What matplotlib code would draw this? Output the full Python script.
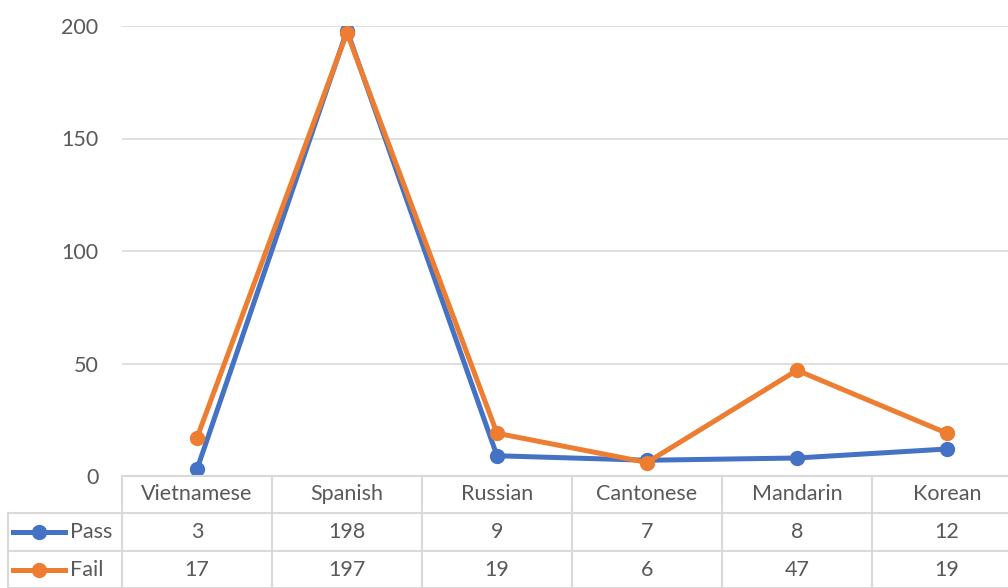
import matplotlib.pyplot as plt
from matplotlib.lines import Line2D

languages = ["Vietnamese", "Spanish", "Russian", "Cantonese", "Mandarin", "Korean"]
pass_counts = [3, 198, 9, 7, 8, 12]
fail_counts = [17, 197, 19, 6, 47, 19]
y_ticks = [0, 50, 100, 150, 200]

blue = "#4472C4"
orange = "#ED7D31"
grid_col = "#D9D9D9"
text_col = "#595959"
fs = 15.5

plt.rcParams["font.family"] = ["Lato", "DejaVu Sans"]

W, H = 1008, 588
fig = plt.figure(figsize=(W / 100, H / 100), dpi=100)

# plot area in pixels: x 122..1022 (cut by the image edge), y 26..476
ax = fig.add_axes([122 / W, (H - 476) / H, 900 / W, 450 / H])
x = list(range(len(languages)))
ax.plot(x, fail_counts, color=orange, lw=3.6, marker="o", ms=10, zorder=3,
        solid_capstyle="round")
ax.plot(x, pass_counts, color=blue, lw=3.6, marker="o", ms=10, zorder=2,
        solid_capstyle="round")
ax.set_xlim(-0.5, len(languages) - 0.5)
ax.set_ylim(0, 200)
ax.set_yticks(y_ticks)
ax.set_xticks([])
ax.grid(axis="y", color=grid_col, lw=1.2)
ax.set_axisbelow(True)
for s in ["top", "right", "left"]:
    ax.spines[s].set_visible(False)
ax.spines["bottom"].set_color(grid_col)
ax.spines["bottom"].set_linewidth(1.5)
ax.tick_params(axis="y", length=0, pad=17, labelsize=fs, labelcolor=text_col)

# data table below the plot: label column 8..122 px
tab = fig.add_axes([8 / W, 0, 1014 / W, (H - 476) / H])
tab.set_xlim(-0.5 - 114 / 150, len(languages) - 0.5)
tab.set_ylim(112, 0)
tab.axis("off")
lc = dict(color=grid_col, lw=1.5, clip_on=False)
left = -0.5 - 114 / 150
for xv in [i - 0.5 for i in range(len(languages) + 1)]:
    tab.plot([xv, xv], [0, 112], **lc)
tab.plot([left, left], [37, 112], **lc)
tab.plot([left, len(languages) - 0.5], [37, 37], **lc)
tab.plot([left, len(languages) - 0.5], [75, 75], **lc)
tab.plot([left, len(languages) - 0.5], [112, 112], **lc)

for i, lang in enumerate(languages):
    tab.text(i, 18.5, lang, ha="center", va="center", fontsize=fs, color=text_col)
    tab.text(i, 56, str(pass_counts[i]), ha="center", va="center", fontsize=fs, color=text_col)
    tab.text(i, 94, str(fail_counts[i]), ha="center", va="center", fontsize=fs, color=text_col)

for row_y, name, col in [(56, "Pass", blue), (94, "Fail", orange)]:
    x0 = left + 5 / 150
    x1 = left + 57 / 150
    tab.add_line(Line2D([x0, x1], [row_y, row_y], color=col, lw=3.6, clip_on=False))
    tab.plot([(x0 + x1) / 2], [row_y], marker="o", ms=10, color=col, clip_on=False)
    tab.text(left + 62 / 150, row_y, name, ha="left", va="center", fontsize=fs, color=text_col)

fig.savefig("out.png", dpi=100)
